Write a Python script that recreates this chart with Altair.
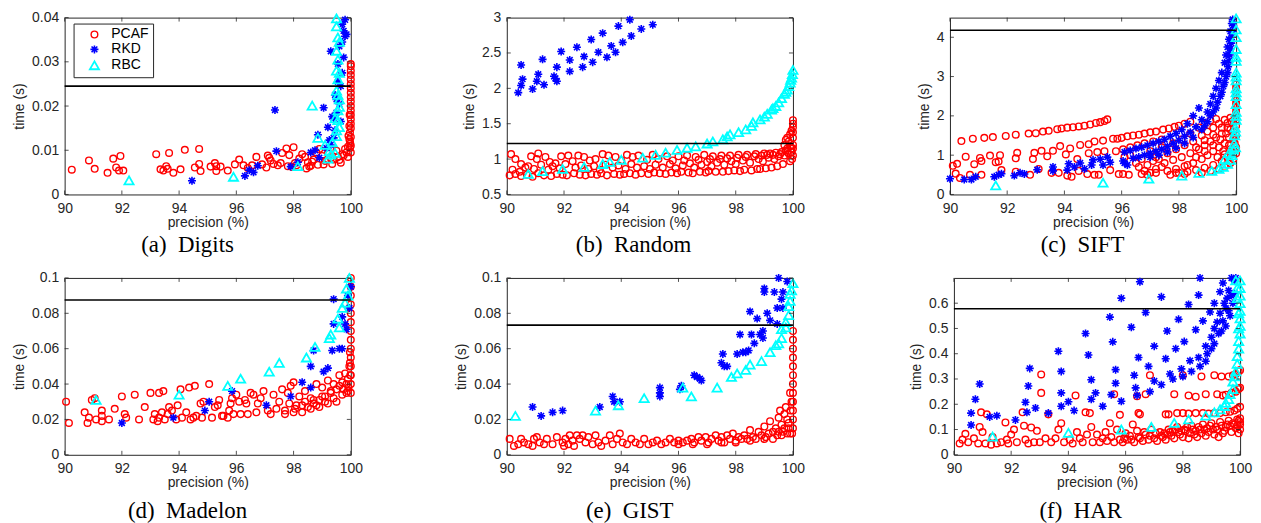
import altair as alt
import pandas as pd

METHODS = ["PCAF", "RKD", "RBC"]
COLORS = ["#ff0000", "#0000ff", "#00ffff"]
ASTERISK = "M-1,0L1,0M0,-1L0,1M-0.72,-0.72L0.72,0.72M-0.72,0.72L0.72,-0.72"
SHAPES = ["circle", ASTERISK, "triangle-up"]
X_TICKS = [90, 92, 94, 96, 98, 100]

# ---------------- (a) Digits ----------------
A_PCAF = [(90.25,0.0056),(90.85,0.0077),(91.05,0.0058),(91.5,0.0049),(91.7,0.0081),(91.8,0.0061),(91.95,0.0087),(91.9,0.0054),(92.05,0.0054),
          (93.2,0.0091),(93.35,0.0057),(93.45,0.0054),(93.55,0.0064),(93.6,0.0058),(93.65,0.0094),(93.8,0.0049),(94.05,0.0057),(94.2,0.0101),
          (94.55,0.0061),(94.7,0.0103),(94.7,0.0069),(94.75,0.0053),(95.1,0.0063),(95.25,0.0071),(95.3,0.0064),(95.3,0.0053),(95.45,0.0063),
          (95.7,0.0054),(95.95,0.0068),(96.1,0.0079),(96.25,0.0066),(96.4,0.006),(96.55,0.0066),(96.7,0.0085),(96.9,0.0068),(97.05,0.0061),
          (97.1,0.0088),(97.15,0.0083),(97.2,0.0077),(97.3,0.0069),(97.45,0.0066),(97.6,0.0094),(97.75,0.0104),(97.85,0.0089),(97.95,0.0062),
          (98.0,0.0107),(98.05,0.0071),(98.2,0.0081),(98.3,0.0091),(98.4,0.0085),(98.5,0.0073),(98.6,0.0065),(98.7,0.0079),(98.8,0.0095),
          (98.85,0.0067),(98.9,0.0103),(99.0,0.0087),(99.1,0.0076),(99.2,0.0093),(99.3,0.0083),(99.4,0.0079),(99.5,0.0099),(99.55,0.0085),
          (99.6,0.0078),(99.7,0.0091),(99.75,0.0088),(99.8,0.0103),(99.85,0.0095),(99.9,0.0108),(99.95,0.0125),(99.97,0.014),(99.9,0.0085),
          (99.65,0.0072),(99.35,0.0069),(99.05,0.0068),(98.65,0.0074),(98.55,0.0063),(98.45,0.0059),(98.1,0.0066),(97.55,0.0071),(97.8,0.0064),
          (99.98,0.0115),(99.92,0.0133),(100,0.0095),(100,0.011),(100,0.013),(100,0.015),(100,0.016),(100,0.017),(100,0.018),(100,0.019),
          (100,0.02),(100,0.021),(100,0.022),(100,0.023),(100,0.024),(100,0.025),(100,0.026),(100,0.027),(100,0.028),(100,0.029),(100,0.0295),
          (99.97,0.0105),(99.97,0.012),(99.95,0.0155),(99.96,0.018)]
A_RKD = [(94.45,0.0031),(96.3,0.0042),(96.45,0.0055),(96.6,0.005),(96.75,0.0065),(97.4,0.0098),(97.35,0.0191),(97.9,0.0063),(98.15,0.0073),
         (98.6,0.0095),(98.75,0.01),(98.9,0.0083),(98.85,0.0135),(99.05,0.0196),(99.15,0.0105),(99.2,0.0152),(99.25,0.0123),(99.3,0.0324),
         (99.35,0.0176),(99.4,0.0172),(99.45,0.0145),(99.5,0.0215),(99.55,0.0255),(99.55,0.0295),(99.6,0.0335),(99.65,0.0165),(99.65,0.0245),
         (99.7,0.0275),(99.75,0.031),(99.75,0.037),(99.8,0.0358),(99.8,0.0395),(99.7,0.0385),(99.6,0.0205),(99.5,0.0185),(99.45,0.0225),
         (99.7,0.0345),(99.85,0.0362),(99.4,0.0128),(99.3,0.0112)]
A_RBC = [(92.25,0.0032),(95.9,0.004),(98.15,0.0064),(98.65,0.0201),(98.85,0.0128),(99.1,0.0112),(99.2,0.0081),(99.25,0.0098),(99.3,0.009),
         (99.35,0.0118),(99.45,0.0094),(99.5,0.0132),(99.5,0.0145),(99.55,0.0168),(99.6,0.0152),(99.55,0.019),(99.6,0.0215),(99.5,0.0235),
         (99.55,0.026),(99.5,0.028),(99.55,0.0305),(99.5,0.0325),(99.6,0.0345),(99.55,0.0355),(99.5,0.038),(99.5,0.0398),(99.45,0.0172),
         (99.6,0.0275),(99.55,0.0225),(99.6,0.0198)]

# ---------------- (b) Random ----------------
B_PCAF = [(90.15,1.07),(90.3,1.0),(90.5,0.93),(90.75,0.9),(90.85,1.04),(91.05,1.0),(91.1,1.08),(91.35,1.03),(91.5,0.96),(91.7,0.94),
          (91.9,1.04),(92.15,1.05),(92.3,0.97),(92.5,1.05),(92.7,1.03),(92.9,0.98),(93.1,1.0),(93.35,1.07),(93.55,1.05),(93.8,1.03),
          (94.0,0.98),(94.2,1.06),(94.4,1.03),(94.6,1.05),(94.9,0.99),(95.1,1.06),(95.3,1.0),(95.6,1.04),(95.8,0.98),(96.0,1.04),
          (96.3,1.05),(96.6,1.03),(96.9,1.06),(97.2,1.04),(97.5,1.05),(97.8,1.05),(98.1,1.06),(98.4,1.06),(98.7,1.07),(99.0,1.08),
          (99.2,1.08),(99.4,1.09),(99.6,1.1),(99.75,1.12),
          (90.2,0.85),(90.45,0.82),(90.65,0.88),(90.95,0.86),(91.2,0.92),(91.45,0.85),(91.6,0.9),(91.85,0.87),(92.05,0.93),(92.4,0.88),
          (92.6,0.91),(92.85,0.86),(93.05,0.9),(93.25,0.85),(93.45,0.92),(93.7,0.88),(93.9,0.91),(94.15,0.86),(94.35,0.93),(94.55,0.88),
          (94.8,0.9),(95.0,0.86),(95.2,0.92),(95.45,0.88),(95.7,0.93),(95.9,0.87),(96.15,0.91),(96.4,0.94),(96.55,0.88),(96.8,0.92),
          (97.0,0.96),(97.15,0.9),(97.35,0.95),(97.6,0.92),(97.85,0.97),(98.0,0.93),(98.25,0.98),(98.5,0.95),(98.8,1.0),(98.95,0.97),
          (99.15,1.02),(99.35,1.0),(99.5,1.04),(99.7,1.05),(99.85,1.08),(99.95,1.1),
          (96.2,0.98),(96.7,0.99),(97.1,1.0),(97.45,1.0),(97.7,1.01),(98.05,1.02),(98.35,1.03),(98.65,1.04),(98.9,1.05),(99.1,1.06),
          (99.3,1.06),(99.55,1.07),(99.8,1.1),
          (90.1,0.77),(90.3,0.79),(90.5,0.76),(90.7,0.78),(90.9,0.75),(91.1,0.8),(91.3,0.77),(91.55,0.76),(91.75,0.79),(91.95,0.78),
          (92.1,0.77),(92.35,0.8),(92.55,0.78),(92.75,0.77),(92.95,0.79),(93.15,0.78),(93.3,0.8),(93.5,0.77),(93.75,0.79),(93.95,0.78),
          (94.1,0.79),(94.3,0.8),(94.5,0.78),(94.7,0.8),(94.95,0.79),(95.15,0.81),(95.35,0.8),(95.55,0.79),(95.75,0.81),(95.95,0.8),
          (96.1,0.82),(96.35,0.81),(96.5,0.8),(96.75,0.82),(96.95,0.81),(97.05,0.83),(97.3,0.82),(97.55,0.82),(97.75,0.83),(97.95,0.84),
          (98.15,0.83),(98.3,0.85),(98.55,0.84),(98.75,0.86),(98.85,0.86),(99.05,0.87),(99.25,0.88),(99.45,0.9),(99.65,0.93),(99.9,0.97),
          (99.7,1.2),(99.75,1.27),(99.8,1.3),(99.85,1.25),(99.9,1.35),(99.95,1.4),(100,1.45),(100,1.5),(100,1.55),(100,1.3),(100,1.2),
          (100,1.15),(99.95,1.15),(99.9,1.18),(100,1.38),(99.8,1.15),(100,1.05),(99.97,1.0)]
B_RKD = [(90.4,1.94),(90.5,2.33),(90.5,2.04),(90.55,2.13),(90.9,1.99),(91.05,2.1),(91.1,2.2),(91.25,2.41),(91.3,2.05),(91.65,2.17),
         (91.75,2.3),(91.75,2.1),(91.9,2.52),(92.2,2.4),(92.2,2.24),(92.45,2.58),(92.65,2.3),(92.7,2.45),(92.95,2.69),(93.0,2.37),
         (93.2,2.51),(93.35,2.78),(93.5,2.44),(93.65,2.6),(93.8,2.51),(93.9,2.88),(94.05,2.65),(94.3,2.97),(94.35,2.74),(94.7,2.84),
         (95.1,2.9),(91.7,2.14)]
B_RBC = [(90.75,0.79),(91.25,0.83),(91.95,0.86),(92.7,0.89),(93.35,0.93),(93.6,0.96),(94.0,0.99),(94.75,1.02),(95.2,1.06),(95.55,1.09),
         (95.95,1.13),(96.3,1.16),(96.6,1.18),(97.0,1.22),(97.2,1.25),(97.55,1.28),(97.8,1.35),(98.1,1.38),(98.35,1.42),(98.55,1.47),
         (98.6,1.52),(98.85,1.56),(99.0,1.6),(99.1,1.64),(99.25,1.7),(99.4,1.75),(99.5,1.8),(99.6,1.86),(99.7,1.92),(99.8,1.98),
         (99.85,2.03),(99.9,2.08),(99.95,2.15),(99.98,2.2),(100,2.26),(97.7,1.32),(99.3,1.72),(99.75,1.95),(99.92,2.12)]

# ---------------- (c) SIFT ----------------
C_PCAF = [(90.4,1.36),(90.8,1.42),(91.2,1.44),(91.5,1.46),(91.95,1.49),(92.3,1.52),(92.75,1.55),(93.0,1.56),(93.25,1.6),(93.45,1.62),
          (93.75,1.66),(93.9,1.68),(94.1,1.7),(94.3,1.71),(94.5,1.73),(94.7,1.75),(94.9,1.78),(95.1,1.82),(95.25,1.84),(95.4,1.87),(95.5,1.91),
          (90.1,0.73),(90.25,0.78),(90.55,0.96),(90.85,0.77),(91.05,0.93),(91.1,0.85),(91.4,0.99),(91.75,1.0),(91.7,0.84),(91.6,0.82),
          (92.3,0.92),(92.35,1.06),(92.9,0.9),(92.95,1.06),(93.2,1.11),(93.4,0.97),(93.6,1.11),(93.85,1.23),(94.05,1.02),(94.2,1.17),
          (94.45,0.9),(94.55,1.26),(94.85,1.28),(95.05,1.35),(95.35,1.37),(95.7,1.42),(95.85,1.42),(96.0,1.44),(96.2,1.48),(96.4,1.5),
          (96.6,1.52),(96.8,1.55),(97.0,1.58),(97.2,1.6),(97.45,1.65),(97.65,1.68),(97.85,1.72),(98.0,1.75),(98.2,1.8),(98.4,1.85),
          (94.85,1.05),(95.15,1.08),(95.4,1.1),(95.8,1.1),(96.05,1.15),(96.3,1.2),(96.55,1.25),(96.8,1.3),(97.1,1.35),(97.4,1.4),
          (90.2,0.53),(90.35,0.42),(90.7,0.5),(91.1,0.5),(91.8,0.62),(92.3,0.58),(92.8,0.5),(93.1,0.65),(93.55,0.55),(93.8,0.55),
          (94.1,0.48),(94.25,0.45),(94.5,0.6),(94.8,0.52),(95.05,0.5),(95.2,0.5),(95.6,0.62),(95.9,0.52),(96.05,0.52),(96.25,0.5),
          (96.7,0.52),(96.8,0.6),(96.9,0.5),(97.0,0.55),(97.2,0.55),(97.7,0.5),(97.9,0.55),(98.2,0.52),
          (96.1,0.95),(96.3,1.0),(96.5,0.8),(96.6,0.7),(96.9,0.75),(97.1,0.85),(97.3,0.9),(96.7,0.9),(97.4,0.7),(97.2,0.65),
          (97.0,1.1),(97.4,1.2),(97.8,1.3),(98.1,1.4),(98.4,1.55),(98.7,1.7),(98.9,1.8),(99.1,1.88),(99.3,1.92),
          (97.2,0.95),(97.6,1.05),(97.9,1.15),(98.2,1.25),(98.5,1.35),(98.8,1.5),(99.0,1.6),(99.2,1.7),(99.4,1.8),(99.6,1.9),(99.8,1.95),
          (97.5,0.8),(97.8,0.88),(98.1,0.95),(98.4,1.05),(98.7,1.15),(98.9,1.25),(99.1,1.35),(99.3,1.45),(99.5,1.55),(99.7,1.7),
          (99.85,1.85),(99.95,1.95),
          (97.6,0.6),(97.9,0.65),(98.2,0.72),(98.5,0.8),(98.8,0.9),(99.0,1.0),(99.2,1.1),(99.4,1.2),(99.6,1.3),(99.75,1.45),(99.9,1.6),(100,1.75),
          (98.0,0.55),(98.3,0.58),(98.6,0.62),(98.9,0.68),(99.2,0.75),(99.5,0.85),(99.7,0.95),(99.85,1.1),(99.95,1.3),(100,1.5),
          (98.8,0.55),(99.1,0.6),(99.4,0.65),(99.6,0.7),(99.8,0.8),(99.9,0.9),(100,1.05),(100,1.2),
          (98.3,0.75),(98.6,0.95),(98.9,1.1),(99.2,1.25),(99.45,1.4),(99.65,1.55),(99.8,1.65),(98.6,1.2),(98.9,1.38),(99.2,1.52),
          (99.5,1.7),(99.7,1.82),(99.35,0.95),(99.55,1.1),(99.75,1.25),(99.9,1.4),(99.6,1.02),(99.8,1.15),
          (100,1.9),(100,2.0),(100,2.1),(100,2.2),(100,2.3),(100,2.4),(100,2.5),(100,2.6),(100,2.7),(100,2.8)]
C_RKD = [(90.0,0.4),(90.5,0.38),(90.75,0.38),(90.9,0.45),(91.55,0.45),(91.7,0.5),(91.8,0.53),(92.25,0.48),(92.45,0.55),(92.6,0.52),
         (93.05,0.63),(93.6,0.6),(93.6,0.7),(94.1,0.62),(94.15,0.78),(94.35,0.7),(94.55,0.8),(94.7,0.65),(94.95,0.75),(95.0,0.88),
         (95.25,0.9),(95.35,0.75),(95.5,0.95),(95.6,0.82),(96.05,0.85),(96.1,0.8),(96.2,0.75),
         (96.1,1.08),(96.3,1.12),(96.5,1.17),(96.7,1.2),(96.9,1.25),(97.1,1.3),(97.3,1.35),(97.5,1.4),(97.7,1.48),(97.9,1.55),
         (98.1,1.65),(98.3,1.8),(98.5,2.0),(98.7,2.2),
         (96.4,0.92),(96.6,0.95),(96.8,1.0),(97.0,1.05),(97.2,1.1),(97.4,1.15),(97.6,1.22),(97.8,1.3),(98.0,1.38),(98.2,1.48),
         (98.4,1.58),(98.6,1.72),(98.8,1.9),(99.0,2.1),(99.1,2.3),(99.2,2.5),(99.3,2.7),(99.4,2.9),(99.5,3.1),(99.6,3.35),
         (99.65,3.55),(99.7,3.75),(99.75,3.95),(99.8,4.15),(99.85,4.35),(99.88,4.45),
         (97.0,0.95),(97.3,1.0),(97.6,1.08),(97.9,1.18),(98.2,1.3),(98.5,1.45),(98.8,1.65),(99.0,1.85),(99.2,2.1),(99.35,2.35),
         (99.5,2.6),(99.6,2.85),(99.7,3.1),(99.75,3.4),(99.8,3.7),(99.85,4.0),(99.9,4.3),
         (98.9,1.75),(99.1,2.0),(99.3,2.2),(99.45,2.5),(99.55,2.75),(99.65,3.0),(99.72,3.25),(99.78,3.55),(99.83,3.85),(99.87,4.15)]
C_RBC = [(91.6,0.23),(95.35,0.3),(96.95,0.4),(98.1,0.48),(98.7,0.55),(99.15,0.6),(99.4,0.65),(99.55,0.7),(99.7,0.78),(99.8,0.88),
         (99.85,1.0),(99.9,1.15),(99.93,1.3),(99.95,1.5),(99.97,1.7),(100,1.9),(100,2.1),(100,2.3),(100,2.5),(100,2.7),(100,2.9),
         (100,3.1),(100,3.4),(100,3.7),(100,4.0),(100,4.2),(100,4.48),(99.98,1.2),(99.98,1.6),(100,2.0),(100,2.6),(100,3.0),
         (100,3.5),(99.6,0.9),(99.75,1.05)]

# ---------------- (d) Madelon ----------------
D_PCAF = [(90.05,0.03),(90.15,0.018),(90.7,0.024),(90.8,0.018),(90.85,0.021),(90.95,0.031),(91.05,0.032),(91.1,0.02),(91.3,0.022),
          (91.3,0.025),(91.3,0.019),(91.55,0.02),(91.75,0.026),(92.0,0.033),(92.1,0.023),(92.15,0.021),(92.45,0.034),(92.6,0.02),
          (92.8,0.027),(93.0,0.035),(93.1,0.02),(93.15,0.023),(93.25,0.019),(93.3,0.021),(93.3,0.035),(93.4,0.024),(93.45,0.036),
          (93.5,0.02),(93.6,0.023),(93.65,0.027),(93.75,0.025),(93.9,0.02),(93.95,0.028),(94.05,0.037),(94.1,0.021),(94.25,0.024),
          (94.35,0.038),(94.4,0.02),(94.5,0.021),(94.55,0.039),(94.6,0.022),(94.75,0.029),(94.8,0.021),(94.85,0.03),(95.05,0.04),
          (95.15,0.021),(95.25,0.027),(95.35,0.028),(95.4,0.031),(95.5,0.022),(95.55,0.022),(95.7,0.021),(95.75,0.025),(95.8,0.029),
          (95.85,0.032),(95.9,0.023),(96.0,0.034),(96.1,0.03),(96.15,0.023),(96.3,0.031),(96.35,0.029),(96.4,0.023),(96.5,0.035),
          (96.6,0.034),(96.7,0.024),(96.75,0.029),(96.85,0.032),(96.95,0.036),(97.1,0.025),(97.2,0.023),(97.3,0.034),(97.4,0.026),
          (97.5,0.03),(97.6,0.037),(97.7,0.025),(97.8,0.035),(97.85,0.029),(97.9,0.039),(98.0,0.041),(98.05,0.026),(98.2,0.033),
          (98.3,0.028),(98.4,0.036),(98.5,0.027),(98.6,0.032),(98.7,0.029),(98.8,0.04),(98.9,0.031),(99.0,0.038),(99.1,0.033),
          (99.2,0.042),(99.3,0.035),(99.4,0.04),(99.5,0.037),(99.6,0.045),(99.7,0.041),(99.8,0.046),(99.85,0.04),(99.9,0.036),
          (99.95,0.05),(99.98,0.045),(99.9,0.043),(99.5,0.03),(99.2,0.029),(98.9,0.027),(98.6,0.026),(98.3,0.024),(98.0,0.024),
          (97.7,0.023),(99.7,0.034),(99.4,0.032),(99.1,0.03),(98.8,0.028),(99.6,0.039),(99.3,0.036),(99.0,0.033),(98.7,0.031),
          (98.4,0.03),(98.1,0.028),(99.75,0.037),(99.85,0.035),(99.92,0.038),
          (100,0.035),(100,0.04),(100,0.045),(100,0.05),(100,0.055),(100,0.06),(100,0.065),(100,0.07),(100,0.075),(100,0.08),
          (100,0.085),(100,0.09),(100,0.095),(100,0.1),(99.97,0.052),(99.97,0.058)]
D_RKD = [(92.0,0.018),(93.8,0.021),(94.9,0.025),(95.05,0.03),(95.85,0.036),(97.05,0.028),(97.9,0.033),(98.3,0.041),(98.6,0.038),
         (98.6,0.05),(98.7,0.059),(99.05,0.047),(99.2,0.049),(99.35,0.059),(99.4,0.074),(99.4,0.088),(99.6,0.06),(99.7,0.06),
         (99.7,0.078),(99.8,0.074),(99.85,0.071),(99.9,0.09),(99.95,0.083),(100,0.095)]
D_RBC = [(91.1,0.031),(94.0,0.034),(95.7,0.039),(96.15,0.043),(97.15,0.047),(97.5,0.052),(98.45,0.055),(98.75,0.061),(99.25,0.066),
         (99.3,0.068),(99.6,0.072),(99.55,0.077),(99.7,0.083),(99.8,0.086),(99.85,0.094),(99.9,0.09),(99.95,0.1)]

# ---------------- (e) GIST ----------------
E_PCAF = [(90.1,0.009),(90.25,0.005),(90.4,0.006),(90.5,0.009),(90.6,0.007),(90.75,0.006),(90.9,0.005),(90.95,0.009),(91.05,0.01),
          (91.15,0.007),(91.3,0.006),(91.4,0.009),(91.6,0.006),(91.75,0.01),(91.95,0.007),(92.0,0.005),(92.05,0.009),(92.15,0.006),
          (92.2,0.011),(92.3,0.008),(92.35,0.005),(92.45,0.011),(92.55,0.009),(92.65,0.011),(92.75,0.007),(92.85,0.01),(93.0,0.006),
          (93.1,0.011),(93.2,0.007),(93.3,0.005),(93.45,0.008),(93.6,0.011),(93.7,0.006),(93.85,0.009),(93.95,0.012),(94.05,0.007),
          (94.2,0.006),(94.35,0.009),(94.5,0.007),(94.65,0.006),(94.8,0.009),(94.95,0.006),(95.1,0.007),(95.25,0.008),(95.4,0.006),
          (95.55,0.007),(95.7,0.009),(95.85,0.007),(96.0,0.008),(96.15,0.007),(96.3,0.008),(96.45,0.009),(96.55,0.007),(96.7,0.01),
          (96.8,0.008),(96.95,0.01),(97.05,0.007),(97.15,0.009),(97.3,0.011),(97.4,0.008),(97.5,0.01),(97.6,0.007),(97.7,0.011),
          (97.8,0.009),(97.9,0.012),(98.0,0.008),(98.1,0.01),(98.2,0.009),(98.3,0.011),(98.4,0.009),(98.5,0.014),(98.6,0.01),
          (98.7,0.009),(98.8,0.013),(98.9,0.011),(99.0,0.016),(99.05,0.01),(99.15,0.012),(99.2,0.019),(99.3,0.013),(99.4,0.015),
          (99.45,0.011),(99.5,0.021),(99.55,0.025),(99.6,0.017),(99.65,0.013),(99.7,0.023),(99.75,0.027),(99.8,0.02),(99.85,0.015),
          (99.9,0.035),(99.95,0.03),(99.92,0.025),(99.97,0.012),(99.9,0.012),(99.3,0.009),(99.6,0.011),(98.5,0.008),(97.0,0.006),
          (96.0,0.006),(96.5,0.006),(97.5,0.007),(98.0,0.007),(99.0,0.009),(99.8,0.012),(99.7,0.015),(99.5,0.013),(99.85,0.018),
          (100,0.015),(100,0.02),(100,0.025),(100,0.03),(100,0.035),(100,0.04),(100,0.045),(100,0.05),(100,0.055),(100,0.06),
          (100,0.065),(100,0.07)]
E_RKD = [(90.9,0.027),(91.2,0.022),(91.6,0.024),(91.95,0.025),(93.25,0.027),(93.7,0.033),(93.75,0.03),(93.95,0.03),(95.35,0.038),
         (95.35,0.035),(95.35,0.033),(96.05,0.037),(96.1,0.039),(96.55,0.045),(96.65,0.044),(96.75,0.043),(96.8,0.042),(97.5,0.052),
         (97.55,0.057),(97.6,0.05),(97.7,0.05),(98.05,0.057),(98.15,0.068),(98.25,0.058),(98.35,0.058),(98.45,0.059),(98.5,0.081),
         (98.55,0.068),(98.65,0.063),(98.75,0.077),(98.85,0.068),(98.95,0.07),(98.95,0.066),(99.0,0.094),(99.0,0.092),(99.1,0.08),
         (99.2,0.076),(99.35,0.092),(99.45,0.083),(99.45,0.074),(99.5,0.1),(99.65,0.083),(99.65,0.092),(99.8,0.098),(99.6,0.088)]
E_RBC = [(90.3,0.022),(93.1,0.025),(93.9,0.028),(94.8,0.032),(96.15,0.038),(96.45,0.033),(97.35,0.038),(97.85,0.044),(98.05,0.046),
         (98.35,0.048),(98.5,0.051),(98.9,0.053),(99.2,0.058),(99.4,0.062),(99.5,0.063),(99.6,0.066),(99.6,0.071),(99.75,0.072),
         (99.75,0.075),(99.85,0.079),(99.85,0.084),(99.9,0.087),(99.9,0.091),(99.95,0.093),(100,0.097)]

# ---------------- (f) HAR ----------------
F_PCAF = [(90.2,0.045),(90.3,0.06),(90.4,0.083),(90.5,0.05),(90.7,0.065),(90.85,0.045),(90.9,0.11),(90.95,0.168),(91.0,0.09),
          (91.1,0.045),(91.15,0.16),(91.3,0.04),(91.35,0.07),(91.5,0.045),(91.65,0.05),(91.8,0.128),(91.85,0.06),(91.9,0.045),
          (92.0,0.08),(92.1,0.1),(92.2,0.05),(92.4,0.168),(92.45,0.115),(92.5,0.06),(92.6,0.045),(92.7,0.108),(92.8,0.05),(92.9,0.095),
          (93.0,0.05),(93.05,0.318),(93.05,0.245),(93.2,0.065),(93.3,0.16),(93.4,0.05),(93.55,0.065),(93.65,0.1),(93.75,0.125),
          (93.85,0.05),(94.05,0.06),(94.15,0.045),(94.25,0.235),(94.3,0.09),(94.4,0.065),(94.5,0.05),(94.6,0.168),(94.65,0.08),
          (94.75,0.165),(94.8,0.11),(94.85,0.05),(95.0,0.08),(95.1,0.05),(95.2,0.065),(95.3,0.09),(95.35,0.055),(95.45,0.125),
          (95.5,0.07),(95.6,0.05),(95.7,0.1),(95.8,0.06),(95.9,0.05),(96.0,0.085),(96.05,0.06),(96.15,0.075),(96.25,0.12),(96.3,0.05),
          (96.4,0.095),(96.5,0.065),(96.6,0.055),(96.7,0.08),(96.8,0.06),(96.9,0.1),(97.0,0.065),(97.1,0.055),(97.2,0.09),(97.3,0.07),
          (97.4,0.06),(97.5,0.1),(97.6,0.075),(97.7,0.065),(97.8,0.11),(97.9,0.08),(98.0,0.07),(98.1,0.095),(98.2,0.065),(98.3,0.115),
          (98.4,0.08),(98.5,0.07),(98.6,0.1),(98.7,0.12),(98.8,0.075),(98.9,0.09),(99.0,0.125),(99.1,0.08),(99.2,0.1),(99.3,0.13),
          (99.4,0.085),(99.5,0.11),(99.6,0.135),(99.7,0.09),(99.8,0.12),(99.9,0.14),(100,0.1),(100,0.13),(100,0.145),(99.95,0.085),
          (99.85,0.105),(99.65,0.115),(99.45,0.095),(99.25,0.07),(99.05,0.1),(98.85,0.105),(98.65,0.085),(98.45,0.095),(98.25,0.085),
          (98.05,0.1),(97.85,0.09),(97.65,0.095),(97.45,0.08),(97.25,0.075),(97.05,0.085),(96.85,0.075),(96.65,0.09),(96.45,0.07),
          (96.2,0.06),(95.95,0.065),(99.75,0.125),(99.55,0.12),(99.35,0.115),(99.15,0.11),(98.95,0.115),(98.75,0.1),(98.55,0.11),
          (98.35,0.1),(98.15,0.11),(97.95,0.095),(97.75,0.1),(97.55,0.09),(97.35,0.085),(99.9,0.115),(100,0.12),(99.95,0.135),
          (95.6,0.24),(96.4,0.232),(96.85,0.315),(96.7,0.24),(97.7,0.24),(98.0,0.315),(98.2,0.235),(98.45,0.23),(98.65,0.31),
          (98.8,0.24),(99.1,0.315),(99.2,0.24),(99.35,0.31),(99.4,0.235),(99.6,0.31),(99.75,0.315),(99.85,0.32),(99.95,0.33),
          (100,0.335),(99.5,0.238),(99.7,0.245),(99.85,0.25),(99.95,0.26),(100,0.265),
          (97.8,0.165),(98.0,0.165),(98.2,0.163),(98.45,0.165),(98.7,0.165),(98.9,0.163),(99.1,0.165),(99.3,0.165),(99.5,0.168),
          (99.65,0.17),(99.8,0.175),(99.9,0.182),(100,0.19),(97.4,0.16),(96.45,0.165),(96.5,0.16),(95.8,0.158),(97.5,0.16)]
F_RKD = [(90.6,0.165),(90.6,0.118),(90.75,0.22),(90.9,0.28),(91.25,0.15),(91.5,0.155),(92.15,0.138),(92.5,0.208),(92.55,0.168),
         (92.6,0.272),(92.65,0.342),(92.85,0.185),(93.3,0.165),(93.65,0.41),(93.75,0.245),(93.75,0.192),(93.75,0.33),(94.0,0.21),
         (94.2,0.175),(94.6,0.48),(94.7,0.395),(94.8,0.297),(94.8,0.22),(94.95,0.245),(95.2,0.192),(95.45,0.545),(95.55,0.447),
         (95.5,0.238),(95.65,0.337),(95.65,0.283),(95.85,0.62),(95.85,0.212),(96.2,0.505),(96.35,0.265),(96.3,0.315),(96.4,0.235),
         (96.45,0.385),(96.5,0.685),(96.7,0.563),(96.8,0.35),(96.85,0.25),(97.0,0.43),(97.0,0.292),(97.25,0.625),(97.25,0.277),
         (97.4,0.38),(97.45,0.49),(97.55,0.32),(97.65,0.3),(97.75,0.42),(97.85,0.536),(97.95,0.34),(98.0,0.31),(98.05,0.448),
         (98.2,0.595),(98.25,0.372),(98.3,0.33),(98.45,0.495),(98.55,0.632),(98.55,0.385),(98.6,0.35),(98.6,0.7),(98.7,0.53),
         (98.8,0.43),(98.8,0.37),(98.85,0.4),(98.95,0.565),(99.0,0.465),(99.0,0.42),(99.1,0.6),(99.1,0.5),(99.1,0.44),(99.2,0.525),
         (99.25,0.48),(99.3,0.645),(99.3,0.56),(99.4,0.68),(99.4,0.53),(99.45,0.6),(99.5,0.58),(99.55,0.62),(99.6,0.65),(99.7,0.7),
         (99.65,0.55),(99.75,0.6),(99.8,0.64),(99.8,0.69),(99.85,0.7),(99.5,0.51),(99.35,0.49),(99.6,0.57),(99.7,0.63)]
F_RBC = [(91.35,0.072),(94.0,0.087),(95.85,0.1),(96.9,0.11),(97.7,0.126),(98.2,0.14),(98.8,0.155),(99.1,0.168),(99.3,0.18),
         (99.45,0.193),(99.5,0.205),(99.6,0.22),(99.65,0.24),(99.75,0.26),(99.75,0.29),(99.8,0.31),(99.85,0.33),(99.9,0.36),
         (99.9,0.39),(99.95,0.42),(99.95,0.45),(100,0.48),(100,0.51),(100,0.54),(100,0.57),(100,0.6),(100,0.63),(100,0.66),
         (100,0.69),(99.95,0.5),(99.95,0.56),(99.9,0.62),(99.9,0.66),(99.85,0.69)]

SP = "\u2002"
PANELS = [
    dict(cap="(a)" + SP + "Digits", red=A_PCAF, blue=A_RKD, cyan=A_RBC, line=0.0245, dom=[0, 0.04], ticks=[0, 0.01, 0.02, 0.03, 0.04], legend=True, off=5),
    dict(cap="(b)" + SP + "Random", red=B_PCAF, blue=B_RKD, cyan=B_RBC, line=1.22, dom=[0.5, 3], ticks=[0.5, 1, 1.5, 2, 2.5, 3], legend=False, off=5),
    dict(cap="(c)" + SP + "SIFT", red=C_PCAF, blue=C_RKD, cyan=C_RBC, line=4.18, dom=[0, 4.5], ticks=[0, 1, 2, 3, 4], legend=False, off=5),
    dict(cap="(d)" + SP + "Madelon", red=D_PCAF, blue=D_RKD, cyan=D_RBC, line=0.0875, dom=[0, 0.1], ticks=[0, 0.02, 0.04, 0.06, 0.08, 0.1], legend=False, off=11),
    dict(cap="(e)" + SP + "GIST", red=E_PCAF, blue=E_RKD, cyan=E_RBC, line=0.0733, dom=[0, 0.1], ticks=[0, 0.02, 0.04, 0.06, 0.08, 0.1], legend=False, off=11),
    dict(cap="(f)" + SP + "HAR", red=F_PCAF, blue=F_RKD, cyan=F_RBC, line=0.578, dom=[0, 0.7], ticks=[0, 0.1, 0.2, 0.3, 0.4, 0.5, 0.6], legend=False, off=11),
]

W, H = 288, 178
TK = 4
AX = "#262626"
XT = "precision (%)"
YT = "time (s)"


def panel(p):
    rows = []
    for name, pts in zip(METHODS, [p["red"], p["blue"], p["cyan"]]):
        for x, y in pts:
            rows.append({"x": x, "y": y, "method": name})
    df = pd.DataFrame(rows)
    xs = alt.Scale(domain=[90, 100], nice=False, zero=False)
    ys = alt.Scale(domain=p["dom"], nice=False, zero=False)
    if p["legend"]:
        leg = alt.Legend(title=None, orient="none", legendX=9, legendY=6, fillColor="white",
                         strokeColor=AX, padding=4, symbolOffset=10, labelOffset=10, rowPadding=0,
                         labelFont="Liberation Sans", labelFontSize=14, labelColor="black",
                         symbolSize=45, symbolStrokeWidth=1.4, cornerRadius=0)
    else:
        leg = None
    pts = alt.Chart(df).mark_point(filled=False, opacity=1).encode(
        x=alt.X("x:Q", scale=xs, title=XT,
                axis=alt.Axis(values=X_TICKS, tickCount=20, format=".3~f", labelOverlap=False, labelFlush=False)),
        y=alt.Y("y:Q", scale=ys, title=YT,
                axis=alt.Axis(values=p["ticks"], tickCount=20, format=".3~f", labelOverlap=False, labelFlush=False)),
        color=alt.Color("method:N", scale=alt.Scale(domain=METHODS, range=COLORS), legend=leg),
        shape=alt.Shape("method:N", scale=alt.Scale(domain=METHODS, range=SHAPES), legend=leg),
        size=alt.Size("method:N", scale=alt.Scale(domain=METHODS, range=[45, 85, 55]), legend=None),
        strokeWidth=alt.StrokeWidth("method:N", scale=alt.Scale(domain=METHODS, range=[1.4, 1.8, 1.3]), legend=None),
    )
    hline = alt.Chart(pd.DataFrame({"y": [p["line"]]})).mark_rule(color="black", strokeWidth=1.6).encode(
        y=alt.Y("y:Q", title=YT), x=alt.value(0), x2=alt.value(W))
    xt = pd.DataFrame({"x": X_TICKS})
    yt = pd.DataFrame({"y": p["ticks"]})
    tb = alt.Chart(xt).mark_rule(color=AX, strokeWidth=0.8).encode(
        x=alt.X("x:Q", title=XT), y=alt.value(H), y2=alt.value(H - TK))
    tt = alt.Chart(xt).mark_rule(color=AX, strokeWidth=0.8).encode(
        x=alt.X("x:Q", title=XT), y=alt.value(0), y2=alt.value(TK))
    tl = alt.Chart(yt).mark_rule(color=AX, strokeWidth=0.8).encode(
        y=alt.Y("y:Q", title=YT), x=alt.value(0), x2=alt.value(TK))
    tr = alt.Chart(yt).mark_rule(color=AX, strokeWidth=0.8).encode(
        y=alt.Y("y:Q", title=YT), x=alt.value(W), x2=alt.value(W - TK))
    return alt.layer(pts, hline, tb, tt, tl, tr).properties(
        width=W, height=H,
        title=alt.TitleParams(p["cap"], orient="bottom", anchor="middle", frame="bounds",
                              font="Liberation Serif", fontSize=23, fontWeight="normal",
                              color="black", offset=p["off"]),
    )


P = [panel(p) for p in PANELS]
row1 = alt.hconcat(alt.hconcat(P[0], P[1], spacing=99), P[2], spacing=111)
row2 = alt.hconcat(alt.hconcat(P[3], P[4], spacing=91), P[5], spacing=104)
chart = alt.vconcat(row1, row2, spacing=11).properties(
    padding={"left": 4, "top": 0, "right": 0, "bottom": 0}
).configure_view(stroke=AX, strokeWidth=1).configure_axis(
    domain=False, ticks=False, grid=False, labelFont="Liberation Sans", labelFontSize=14,
    labelColor=AX, titleFont="Liberation Sans", titleFontSize=14, titleFontWeight="normal",
    titleColor=AX, labelFlush=False, labelOverlap=False,
).configure_axisX(labelPadding=7, titlePadding=0).configure_axisY(labelPadding=6, titlePadding=5)

chart.save("out.html", embed_options={"renderer": "svg", "actions": False})
